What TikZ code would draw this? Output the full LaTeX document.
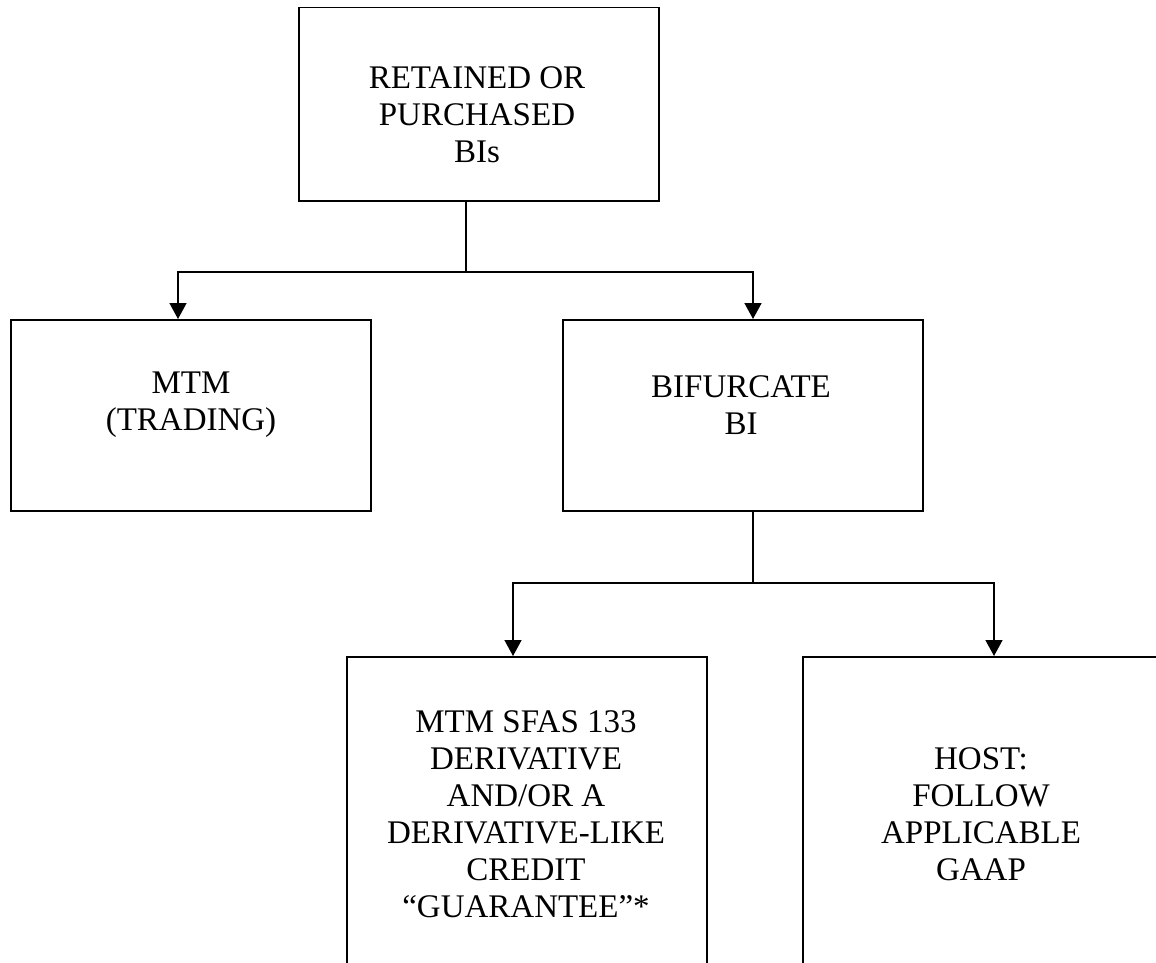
\documentclass[tikz,border=0pt]{standalone}
\usepackage{fontspec}
\setmainfont{Liberation Serif}
\usetikzlibrary{arrows.meta}
\begin{document}
\begin{tikzpicture}[x=1pt,y=-1pt,
  box/.style={draw,line width=1.5pt,rectangle,inner sep=0pt,anchor=north west},
  lbl/.style={align=center,inner sep=0pt,font=\fontsize{33}{37}\selectfont},
  conn/.style={line width=1.5pt},
  arr/.style={line width=1.5pt,-{Triangle[width=17pt,length=16pt]}}]
\useasboundingbox (0,0) rectangle (1156,963);
\clip (0,0) rectangle (1156,963);
% boxes
\node[box,minimum width=360pt,minimum height=193pt] (top) at (298,7) {};
\node[box,minimum width=360pt,minimum height=191pt] (mtm) at (10,319) {};
\node[box,minimum width=360pt,minimum height=191pt] (bif) at (562,319) {};
\node[box,minimum width=360pt,minimum height=360pt] (der) at (346,656) {};
\node[box,minimum width=360pt,minimum height=360pt] (host) at (802,656) {};
% labels
\node[lbl] (ttop) at (477,115) {RETAINED OR\\PURCHASED\\BIs};
\node[lbl] (tmtm) at (191,405) {MTM\\(TRADING)};
\node[lbl] (tbif) at (741,405) {BIFURCATE\\BI};
\node[lbl] (tder) at (526,814) {MTM SFAS 133\\DERIVATIVE\\AND/OR A\\DERIVATIVE-LIKE\\CREDIT\\“GUARANTEE”*};
\node[lbl] (thost) at (981,814) {HOST:\\FOLLOW\\APPLICABLE\\GAAP};
% connectors
\coordinate (j1) at (466,272);
\coordinate (j2) at (753,583);
\draw[conn] (top.south -| j1) -- (j1);
\draw[arr] (j1) -| (mtm.north -| 178,0);
\draw[arr] (j1) -| (bif.north -| j2);
\draw[conn] (bif.south -| j2) -- (j2);
\draw[arr] (j2) -| (der.north -| 513,0);
\draw[arr] (j2) -| (host.north -| 994,0);
\end{tikzpicture}
\end{document}
